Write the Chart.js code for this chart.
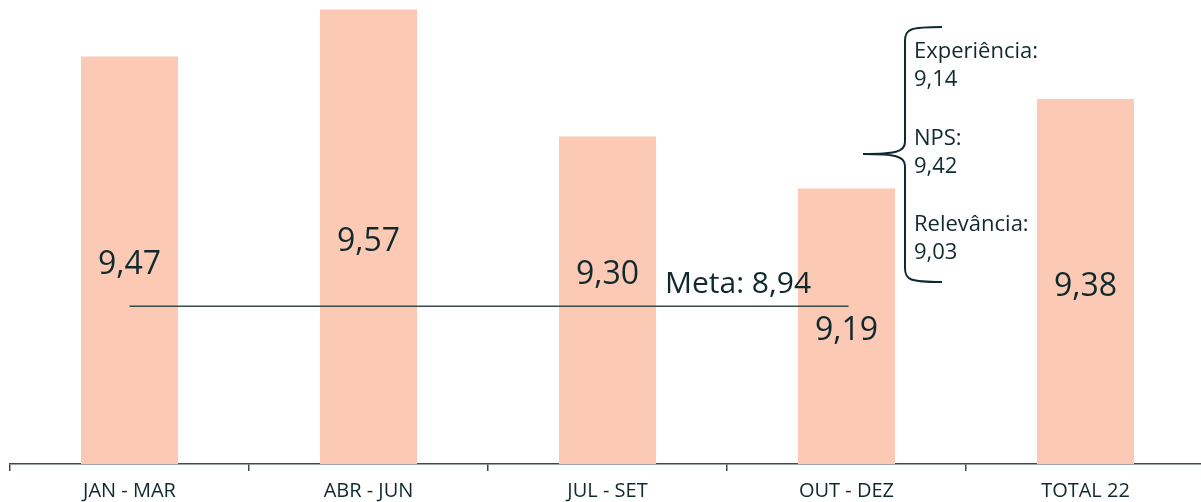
<!DOCTYPE html>
<html>
<head>
<meta charset="utf-8">
<script src="https://cdn.jsdelivr.net/npm/chart.js@4"></script>
<style>
  html, body { margin: 0; padding: 0; background: #fff; overflow: hidden; }
  #wrap { width: 1210px; height: 502px; }
</style>
</head>
<body>
<div id="wrap"><canvas id="grafico" width="1210" height="502"></canvas></div>
<script>
// dados do gráfico
const periodos = ['JAN - MAR', 'ABR - JUN', 'JUL - SET', 'OUT - DEZ', 'TOTAL 22']
const notas = [9.47, 9.57, 9.30, 9.19, 9.38]
const meta = 8.94
const metaLabel = 'Meta: 8,94'
const detalheNomes = ['Experiência:', 'NPS:', 'Relevância:']
const detalheValores = [9.14, 9.42, 9.03]

const corBarra = '#FBC9B4'
const corTexto = '#10292d'
const corLinha = '#3b4b4c'
const fonte = '"Open Sans", "Noto Sans", sans-serif'

const fmt = v => v.toFixed(2).replace('.', ',')

// rótulos das barras + linha da meta + chave com detalhes
const anotacoes = {
    id: 'anotacoes',
    afterDraw(chart) {
        const c = chart.ctx
        const x = chart.scales.x
        const y = chart.scales.y

        c.save()
        // valores dentro das barras
        c.fillStyle = corTexto
        c.font = '32px ' + fonte
        c.textAlign = 'center'
        c.textBaseline = 'middle'
        notas.forEach((v, i) => {
            let yy = (y.getPixelForValue(v) + y.bottom) / 2 + 5
            if (i === 2) yy -= 30 // afasta do texto da meta
            c.fillText(fmt(v), x.getPixelForValue(i), yy)
        })

        // linha da meta
        const ym = y.getPixelForValue(meta)
        c.strokeStyle = corLinha
        c.lineWidth = 1.5
        c.beginPath()
        c.moveTo(x.getPixelForValue(0), ym)
        c.lineTo(x.getPixelForValue(3) + 2, ym)
        c.stroke()
        c.font = '30px ' + fonte
        c.textAlign = 'left'
        c.textBaseline = 'alphabetic'
        c.fillText(metaLabel, 665, ym - 13)

        // chave
        const bx = 905, top = 27, bot = 282, mid = 154, tip = 863
        c.lineWidth = 2
        c.strokeStyle = corTexto
        c.beginPath()
        c.moveTo(942, top)
        c.bezierCurveTo(910, top, bx, top + 2, bx, top + 14)
        c.lineTo(bx, mid - 12)
        c.bezierCurveTo(bx, mid - 2, 895, mid, tip, mid)
        c.bezierCurveTo(895, mid, bx, mid + 2, bx, mid + 12)
        c.lineTo(bx, bot - 14)
        c.bezierCurveTo(bx, bot - 2, 910, bot, 942, bot)
        c.stroke()

        c.font = '22px ' + fonte
        c.textBaseline = 'middle'
        detalheNomes.forEach((nome, i) => {
            const y0 = 52 + i * 86.5
            c.fillText(nome, 914, y0)
            c.fillText(fmt(detalheValores[i]), 914, y0 + 28)
        })
        c.restore()
    }
}

const ctx = document.getElementById('grafico').getContext('2d')

const grafico = new Chart(ctx, {
    type: 'bar',
    data: {
        labels: periodos,
        datasets: [{
            data: notas,
            backgroundColor: corBarra,
            barPercentage: 0.406,
            categoryPercentage: 1
        }]
    },
    options: {
        responsive: false,
        animation: false,
        layout: { padding: { left: 10, right: 5, top: 0, bottom: 0 } },
        plugins: {
            legend: { display: false },
            tooltip: { enabled: false }
        },
        scales: {
            x: {
                afterFit: s => { s.height = 38 },
                grid: {
                    offset: true,
                    drawOnChartArea: false,
                    drawTicks: true,
                    tickLength: 7,
                    color: corLinha,
                    lineWidth: 1.5
                },
                border: { display: true, color: corLinha, width: 1.5 },
                ticks: {
                    color: corTexto,
                    font: { family: fonte, size: 20 },
                    padding: 8
                }
            },
            y: {
                display: false,
                min: 8.605,
                max: 9.59
            }
        }
    },
    plugins: [anotacoes]
})
</script>
</body>
</html>
